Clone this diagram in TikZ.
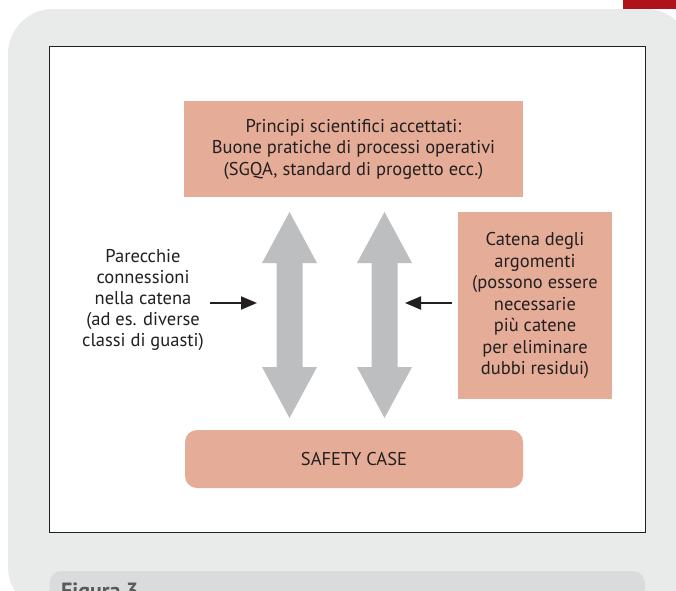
\documentclass[tikz,border=0pt]{standalone}
\usepackage{fontspec}
\setmainfont{PT Sans}
\usetikzlibrary{arrows.meta}
\definecolor{salmon}{HTML}{E5AD98}
\definecolor{arrgrey}{HTML}{BCBEC0}
\definecolor{bggrey}{HTML}{E9EBEA}
\definecolor{capgrey}{HTML}{DADBDD}
\definecolor{darkred}{HTML}{B0121B}
\definecolor{ink}{HTML}{231F20}
\definecolor{figink}{HTML}{58595B}
\begin{document}
\begin{tikzpicture}[x=1pt,y=-1pt,
  box/.style={fill=salmon, text=ink, align=center, inner sep=0pt,
    font=\fontsize{18.5}{21.5}\selectfont},
  plain/.style={text=ink, align=center, inner sep=0pt,
    font=\fontsize{18.5}{21}\selectfont},
  blackarrow/.style={draw=ink, line width=2pt, -{Triangle[length=16pt,width=13pt]}},
  greyarrow/.style={fill=arrgrey}]
\useasboundingbox (0,0) rectangle (676,590);
\clip (0,0) rectangle (676,590);
% background
\fill[darkred] (623,0) rectangle (676,9);
\fill[bggrey, rounded corners=45pt] (8,9) rectangle (691,612);
\fill[capgrey, rounded corners=12pt] (49.5,571) rectangle (645,630);
\node[anchor=base west, font=\fontsize{22}{26}\selectfont\bfseries, text=figink, inner sep=0pt] (fig) at (61,598) {Figura 3};
\draw[fill=white, line width=1pt, draw=ink] (49.5,46) rectangle (645,532);
% boxes
\node[box, minimum width=339pt, minimum height=96pt] (top) at (353.5,149)
  {Principi scientifici accettati:\\Buone pratiche di processi operativi\\(SGQA, standard di progetto ecc.)};
\node[box, minimum width=154pt, minimum height=187pt] (chain) at (535,305.5)
  {Catena degli\\argomenti\\(possono essere\\necessarie\\più catene\\per eliminare\\dubbi residui)};
\node[box, rounded corners=12pt, minimum width=338pt, minimum height=58pt] (safety) at (354,459)
  {SAFETY CASE};
\node[plain] (left) at (143,300)
  {Parecchie\\connessioni\\nella catena\\(ad es. diverse\\classi di guasti)};
% grey double arrows
\foreach \cx in {289.5,384.5}{
  \fill[greyarrow] (\cx,212) -- (\cx+27.5,263) -- (\cx+13,263) -- (\cx+13,367)
    -- (\cx+27.5,367) -- (\cx,418) -- (\cx-27.5,367) -- (\cx-13,367)
    -- (\cx-13,263) -- (\cx-27.5,263) -- cycle;
}
% black arrows
\coordinate (la1) at (210,303);
\coordinate (la2) at (257,303);
\coordinate (ra1) at (452,303);
\coordinate (ra2) at (405,303);
\draw[blackarrow] (la1) -- (la2);
\draw[blackarrow] (ra1) -- (ra2);
\end{tikzpicture}
\end{document}
